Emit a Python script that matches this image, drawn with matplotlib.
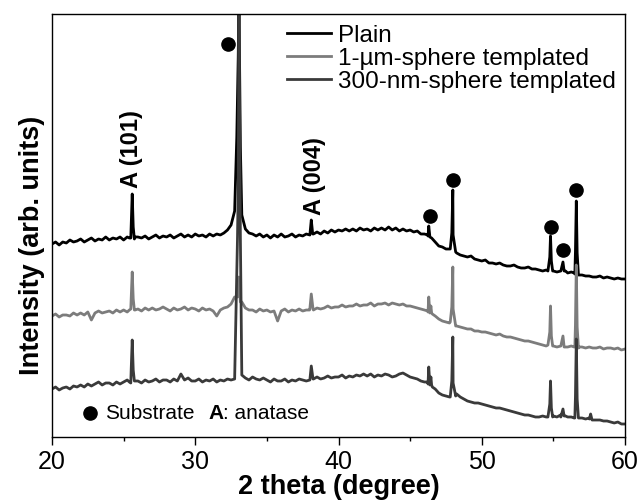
from matplotlib import pyplot as plt
import numpy as np

plt.rcParams["font.family"] = ["Liberation Sans", "DejaVu Sans"]

# sampling grid of the scans (2 theta, degree), 0.25 degree step
two_theta = np.linspace(20, 60, 161)

# baseline intensities (arb. units, 4 points per degree)
plain_base = [
    193, 195, 192, 195, 194, 197, 195, 196, 198, 195, 197, 199, 196, 198, 197, 200,
    197, 199, 198, 200, 197, 200, 199, 198, 200, 199, 201, 198, 200, 202, 199, 201,
    200, 202, 199, 201, 203, 200, 202, 200, 203, 201, 202, 200, 203, 201, 203, 202,
    204, 207, 212, 226, 380, 222, 208, 204, 203, 201, 203, 200, 202, 199, 202, 200,
    203, 200, 201, 203, 200, 202, 201, 203, 202, 203, 205, 203, 206, 204, 207, 205,
    207, 206, 208, 206, 208, 206, 209, 207, 208, 206, 209, 207, 209, 207, 210, 207,
    209, 206, 208, 206, 207, 205, 206, 203, 203, 201, 199, 195, 191, 190, 188, 188,
    202, 184, 182, 181, 180, 181, 178, 177, 176, 177, 174, 174, 173, 174, 172, 171,
    171, 172, 170, 169, 169, 170, 168, 168, 167, 166, 167, 180, 166, 165, 166, 166,
    164, 165, 163, 162, 162, 161, 161, 160, 160, 161, 159, 160, 159, 158, 159, 158,
    158,
]
um_base = [
    121, 123, 120, 122, 122, 121, 124, 122, 124, 122, 125, 117, 124, 126, 124, 125,
    126, 124, 127, 125, 127, 125, 128, 127, 128, 126, 129, 127, 129, 127, 128, 130,
    128, 126, 129, 127, 128, 130, 127, 129, 128, 126, 129, 127, 128, 126, 121, 127,
    129, 130, 133, 140, 150, 135, 129, 127, 127, 125, 128, 126, 127, 125, 126, 116,
    126, 128, 125, 127, 126, 128, 126, 127, 128, 127, 129, 128, 129, 131, 129, 130,
    130, 132, 130, 131, 131, 133, 131, 132, 132, 134, 131, 133, 133, 134, 132, 134,
    133, 132, 133, 131, 131, 130, 129, 128, 127, 125, 124, 121, 118, 116, 115, 114,
    128, 111, 110, 109, 108, 108, 106, 106, 105, 105, 104, 103, 102, 103, 101, 100,
    100, 99, 98, 97, 96, 96, 95, 94, 93, 92, 91, 105, 91, 90, 91, 90,
    90, 91, 90, 89, 90, 89, 90, 89, 89, 90, 88, 89, 89, 88, 89, 87,
    88,
]
nm_base = [
    48, 50, 47, 49, 50, 48, 51, 50, 52, 50, 53, 51, 53, 55, 52, 54,
    54, 52, 55, 53, 55, 57, 54, 56, 56, 54, 57, 55, 56, 58, 55, 57,
    57, 55, 58, 56, 63, 57, 59, 56, 56, 58, 55, 57, 56, 58, 55, 57,
    56, 58, 57, 58, 250, 62, 59, 57, 60, 58, 57, 59, 57, 55, 58, 56,
    56, 58, 55, 57, 56, 58, 57, 56, 57, 58, 60, 58, 59, 61, 59, 60,
    60, 62, 59, 61, 60, 62, 61, 63, 61, 63, 60, 62, 61, 63, 62, 60,
    61, 63, 64, 62, 60, 59, 58, 56, 55, 53, 52, 48, 44, 42, 41, 40,
    54, 43, 40, 38, 36, 35, 34, 34, 33, 32, 31, 30, 29, 29, 28, 27,
    26, 25, 24, 23, 22, 22, 21, 20, 20, 21, 20, 33, 21, 20, 22, 21,
    20, 20, 19, 19, 19, 18, 19, 17, 17, 17, 16, 16, 15, 14, 15, 13,
    13,
]

# diffraction peaks (top plus feet)
plain_peak_x = [25.4, 25.53, 25.6, 25.67, 25.8, 32.9, 33.05, 33.15,
                38.0, 38.1, 38.2, 46.22, 46.3, 46.38,
                47.8, 47.91, 47.98, 48.18, 54.62, 54.8, 54.86, 54.95,
                55.52, 55.67, 55.85, 56.45, 56.54, 56.6, 56.66, 56.78]
plain_peak_y = [199, 212, 243, 210, 200, 300, 440, 290,
                202, 217, 203, 202, 211, 200,
                188, 204, 247, 185, 166, 201, 176, 166,
                166, 175, 166, 164, 185, 236, 184, 162]
um_peak_x = [25.4, 25.53, 25.6, 25.67, 25.8, 32.95, 33.05, 33.15,
             37.98, 38.1, 38.22, 46.22, 46.3, 46.38, 46.45, 46.55,
             47.8, 47.91, 47.98, 48.18, 54.62, 54.8, 54.86, 54.95,
             55.52, 55.67, 55.85, 56.45, 56.54, 56.6, 56.66, 56.78]
um_peak_y = [127, 139, 165, 138, 127, 140, 160, 135,
             127, 143, 128, 126, 140, 124, 131, 123,
             115, 130, 170, 111, 92, 131, 101, 91,
             91, 101, 90, 90, 112, 172, 110, 90]
nm_peak_x = [25.4, 25.53, 25.6, 25.67, 25.8, 32.95, 33.05, 33.15,
             37.98, 38.1, 38.22, 46.22, 46.3, 46.38, 46.45, 46.55,
             47.8, 47.91, 47.98, 48.18, 54.62, 54.8, 54.86, 54.95,
             55.52, 55.67, 55.85, 56.45, 56.54, 56.6, 56.66, 56.78,
             57.52, 57.6, 57.7]
nm_peak_y = [55, 68, 97, 67, 56, 200, 440, 200,
             57, 71, 58, 55, 70, 52, 60, 50,
             40, 56, 100, 41, 20, 56, 29, 20,
             20, 28, 21, 19, 40, 98, 38, 19,
             18, 23, 17]

# substrate reflections marked with a bullet
sub_x = [32.28, 46.4, 47.98, 54.8, 55.67, 56.6]
sub_y = [393, 221, 257, 210, 187, 247]

labels = ["Plain", "1-\u00b5m-sphere templated", "300-nm-sphere templated"]
colors = ["#000000", "#7c7c7c", "#3a3a3a"]


def merge(base, px, py):
    x = np.concatenate([two_theta, px])
    y = np.concatenate([np.asarray(base, float), py])
    order = np.argsort(x, kind="stable")
    return x[order], y[order]


fig = plt.figure(figsize=(6.4, 5.02), dpi=100)
ax = fig.add_axes([52 / 640, 64 / 502, 573 / 640, 423 / 502])

series = [
    merge(plain_base, plain_peak_x, plain_peak_y),
    merge(um_base, um_peak_x, um_peak_y),
    merge(nm_base, nm_peak_x, nm_peak_y),
]
for (x, y), lab, col in zip(series, labels, colors):
    ax.plot(x, y, color=col, linewidth=2.0, label=lab, solid_joinstyle="round")

ax.plot(sub_x, sub_y, "o", color="black", markersize=9.5, linestyle="none")

ax.text(25.55, 250, "A (101)", rotation=90, ha="center", va="bottom",
        fontsize=17, fontweight="bold")
ax.text(38.3, 223, "A (004)", rotation=90, ha="center", va="bottom",
        fontsize=17, fontweight="bold")

ax.plot([22.65], [24], "o", color="black", markersize=9.5)
ax.text(23.7, 24, "Substrate", ha="left", va="center", fontsize=15)
t = ax.text(30.9, 24, "A", ha="left", va="center", fontsize=15, fontweight="bold")
ax.annotate(": anatase", xy=(1, 0), xycoords=t, ha="left", va="bottom", fontsize=15)

ax.set_xlim(20, 60)
ax.set_ylim(0, 423)
ax.set_yticks([])
ax.set_xticks([20, 30, 40, 50, 60])
ax.set_xticks([25, 35, 45, 55], minor=True)
ax.tick_params(axis="x", which="major", direction="out", length=6, width=1,
               labelsize=18, pad=3)
ax.tick_params(axis="x", which="minor", direction="out", length=3, width=1)
for s in ax.spines.values():
    s.set_linewidth(1.0)

ax.set_xlabel("2 theta (degree)", fontsize=19.5, fontweight="bold", labelpad=0)
ax.set_ylabel("Intensity (arb. units)", fontsize=19.5, fontweight="bold")
ax.yaxis.set_label_coords(-0.012, 0.456)

ax.legend(loc="upper left", bbox_to_anchor=(287 / 640, 1 - 25 / 502),
          bbox_transform=fig.transFigure, frameon=False, fontsize=17.5,
          borderpad=0, borderaxespad=0, handlelength=1.8, handletextpad=0.3,
          labelspacing=0.05)

fig.savefig("out.png", dpi=100)
